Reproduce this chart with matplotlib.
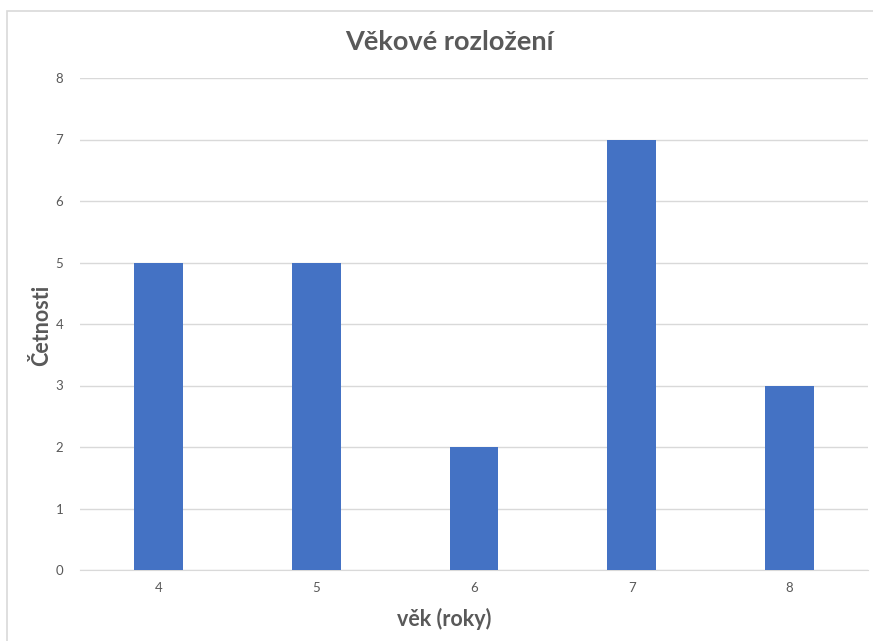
import matplotlib.pyplot as plt
from matplotlib.patches import Rectangle

vek = ['4', '5', '6', '7', '8']
cetnosti = [5, 5, 2, 7, 3]

plt.rcParams['font.family'] = ['Lato', 'DejaVu Sans']

fig = plt.figure(figsize=(8.73, 6.41), dpi=100)
# rámeček grafu
fig.patches.append(Rectangle((7 / 873, -0.1), 1.2, 1.1 - 11 / 641, transform=fig.transFigure,
                             fill=False, edgecolor='#d9d9d9', linewidth=1.2))

ax = fig.add_axes([80 / 873, 71 / 641, 788 / 873, 492 / 641])
ax.bar(range(len(vek)), cetnosti, width=0.31, color='#4472c4', zorder=3)

ax.set_xlim(-0.5, len(vek) - 0.5)
ax.set_ylim(0, 8)
ax.set_xticks(range(len(vek)))
ax.set_xticklabels(vek)
ax.set_yticks(range(0, 9))
ax.grid(True, axis='y', color='#d9d9d9', linewidth=1)
ax.tick_params(length=0, labelsize=9.5, colors='#595959', pad=12)
ax.tick_params(axis='x', pad=9)
for s in ['top', 'right', 'left']:
    ax.spines[s].set_visible(False)
ax.spines['bottom'].set_color('#d9d9d9')

fig.text(449 / 873, 1 - 42 / 641, 'Věkové rozložení', ha='center', va='center',
         fontsize=19.5, fontweight='bold', color='#595959')
fig.text(42 / 873, 1 - 325 / 641, 'Četnosti', ha='center', va='center', rotation=90,
         fontsize=15.5, fontweight='bold', color='#595959')
fig.text(444 / 873, 1 - 619 / 641, 'věk (roky)', ha='center', va='center',
         fontsize=15.5, fontweight='bold', color='#595959')

plt.savefig('out.png', dpi=100)
